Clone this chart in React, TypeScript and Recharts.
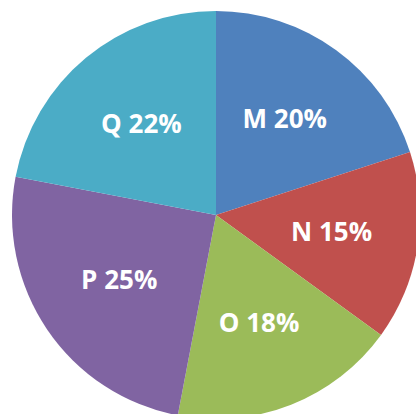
import React from "react";
import { PieChart, Pie, Cell } from "recharts";

const names = ["M", "N", "O", "P", "Q"];
const values = [20, 15, 18, 25, 22];
const colors = ["#4F81BD", "#C0504D", "#9BBB59", "#8064A2", "#4BACC6"];

const data = names.map((n, i) => ({ name: n, value: values[i] }));

const RADIAN = Math.PI / 180;

const renderLabel = (props: any) => {
  const { cx, cy, midAngle, name, value } = props;
  const r = 117;
  const x = cx + r * Math.cos(-midAngle * RADIAN);
  const y = cy + r * Math.sin(-midAngle * RADIAN) - 2;
  return (
    <text
      x={x}
      y={y}
      fill="#ffffff"
      textAnchor="middle"
      dominantBaseline="central"
      style={{ fontFamily: "'Open Sans', sans-serif", fontWeight: 700, fontSize: 26 }}
    >
      {`${name} ${value}%`}
    </text>
  );
};

export default function App() {
  return (
    <div style={{ position: "fixed", left: 0, top: 0, width: 416, height: 414, background: "#ffffff" }}>
      <PieChart width={416} height={414} margin={{ top: 0, right: 0, bottom: 0, left: 0 }}>
        <Pie
          data={data}
          dataKey="value"
          nameKey="name"
          cx={216}
          cy={215}
          outerRadius={204}
          startAngle={90}
          endAngle={-270}
          stroke="none"
          label={renderLabel}
          labelLine={false}
          isAnimationActive={false}
        >
          {data.map((d, i) => (
            <Cell key={d.name} fill={colors[i]} />
          ))}
        </Pie>
      </PieChart>
    </div>
  );
}
